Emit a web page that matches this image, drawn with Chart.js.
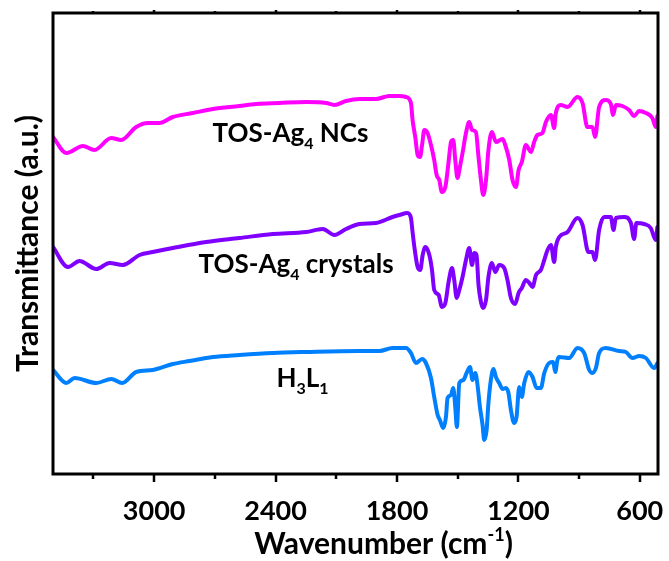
<!DOCTYPE html>
<html>
<head>
<meta charset="utf-8">
<title>FTIR</title>
<script src="https://cdn.jsdelivr.net/npm/chart.js@4.4.0/dist/chart.umd.min.js"></script>
<style>
  html, body { margin: 0; padding: 0; background: #fff; }
</style>
</head>
<body>
<canvas id="ftir" width="669" height="561"></canvas>
<script>
// FTIR spectra, wavenumber in cm-1, transmittance in arbitrary (stacked) units
const ncWave = [3500, 3434, 3352, 3295, 3212, 3163, 3089, 3031, 2974, 2908, 2809, 2710, 2579, 2496, 2381, 2249, 2150, 2109, 2052, 1986,
  1904, 1838, 1788, 1755, 1731, 1723, 1709, 1698, 1686, 1676, 1665, 1649, 1632, 1616, 1604, 1591, 1578, 1561, 1545, 1533,
  1522, 1512, 1501, 1489, 1476, 1459, 1443, 1429, 1410, 1397, 1385, 1374, 1360, 1348, 1331, 1311, 1278, 1265, 1245, 1229,
  1212, 1199, 1183, 1163, 1138, 1122, 1106, 1081, 1064, 1039, 1023, 1015, 990, 957, 908, 883, 859, 834, 821, 801,
  768, 743, 732, 718, 686, 653, 628, 603, 570, 538, 521, 513];
const ncT = [337, 321, 328, 324, 336, 334, 347, 351, 351, 357, 361, 365, 368, 370, 371, 372, 371, 369, 373, 375,
  375, 378, 378, 377, 371, 354, 336, 319, 317, 329, 344, 341, 329, 314, 299, 294, 282, 287, 312, 332,
  334, 314, 296, 307, 321, 341, 352, 344, 342, 317, 294, 279, 294, 324, 342, 332, 335, 329, 314, 294,
  287, 304, 312, 329, 322, 332, 339, 341, 352, 359, 346, 361, 369, 367, 377, 371, 347, 347, 337, 367,
  374, 370, 359, 369, 368, 364, 358, 363, 361, 356, 347, 358];

const crWave = [3500, 3426, 3369, 3286, 3220, 3155, 3072, 3007, 2908, 2743, 2579, 2414, 2249, 2167, 2109, 2052, 1986, 1904, 1822, 1788,
  1748, 1731, 1723, 1714, 1698, 1685, 1673, 1660, 1640, 1627, 1616, 1594, 1578, 1561, 1545, 1528, 1517, 1505, 1492, 1476,
  1459, 1443, 1429, 1418, 1407, 1397, 1385, 1374, 1360, 1348, 1331, 1314, 1295, 1270, 1254, 1237, 1216, 1199, 1183, 1163,
  1146, 1130, 1113, 1089, 1072, 1056, 1039, 1023, 1015, 998, 957, 908, 883, 854, 834, 821, 801, 776, 743, 730,
  718, 677, 644, 628, 617, 579, 546, 521, 513];
const crT = [227, 207, 213, 205, 211, 209, 219, 222, 226, 232, 236, 240, 242, 245, 239, 245, 250, 251, 257, 259,
  261, 256, 242, 227, 207, 204, 219, 227, 219, 204, 184, 179, 167, 171, 192, 206, 194, 176, 184, 197,
  214, 226, 209, 221, 219, 189, 172, 166, 174, 197, 211, 202, 209, 206, 194, 176, 170, 181, 186, 194,
  191, 187, 199, 204, 214, 224, 229, 212, 227, 237, 242, 256, 249, 222, 222, 214, 244, 257, 257, 244,
  256, 257, 251, 235, 251, 250, 246, 234, 247];

const ligWave = [3500, 3434, 3393, 3286, 3212, 3158, 3089, 3007, 2908, 2825, 2710, 2579, 2414, 2249, 1986, 1887, 1822, 1755, 1731, 1706,
  1676, 1657, 1632, 1616, 1599, 1588, 1571, 1558, 1550, 1533, 1522, 1512, 1504, 1492, 1472, 1456, 1439, 1427, 1413, 1402,
  1390, 1377, 1369, 1357, 1348, 1336, 1323, 1311, 1295, 1278, 1262, 1249, 1237, 1221, 1209, 1196, 1183, 1171, 1150, 1130,
  1110, 1089, 1072, 1048, 1028, 1018, 1007, 998, 949, 908, 875, 850, 834, 817, 801, 768, 702, 669, 636, 603,
  570, 529, 513];
const ligT = [104, 91, 96, 91, 95, 91, 102, 104, 110, 113, 117, 119, 121, 122, 123, 123, 126, 126, 121, 111,
  115, 111, 96, 77, 59, 54, 46, 57, 76, 79, 86, 67, 47, 91, 94, 101, 107, 94, 101, 89,
  67, 49, 34, 44, 71, 94, 105, 97, 91, 85, 86, 81, 64, 51, 57, 87, 77, 91, 102, 97,
  86, 86, 101, 111, 112, 102, 114, 117, 116, 126, 121, 104, 101, 106, 121, 126, 123, 122, 116, 118,
  116, 106, 111];

const majorTicks = [3000, 2400, 1800, 1200, 600];
const minorTicks = [3300, 2700, 2100, 1500, 900];

// curve names, drawn next to each trace: [text, subscript] pieces, anchor in data units
const seriesLabels = [
  { parts: [['TOS-Ag', false], ['4', true], [' NCs', false]], at: [2712, 332] },
  { parts: [['TOS-Ag', false], ['4', true], [' crystals', false]], at: [2781, 201] },
  { parts: [['H', false], ['3', true], ['L', false], ['1', true]], at: [2396, 87] }
];

const FONT = 'Lato, "Open Sans", sans-serif';

function zip(xs, ys) {
  return xs.map((v, i) => ({ x: v, y: ys[i] }));
}

function drawPieces(ctx, parts, x, y, size) {
  let cx = x;
  parts.forEach(([t, sub]) => {
    const s = sub ? Math.round(size * 0.62) : size;
    ctx.font = 'bold ' + s + 'px ' + FONT;
    ctx.fillText(t, cx, sub ? y + size * 0.28 : y);
    cx += ctx.measureText(t).width;
  });
}

const framePlugin = {
  id: 'frame',
  afterDraw(chart) {
    const { ctx, chartArea: a, scales: { x, y } } = chart;
    ctx.save();
    ctx.strokeStyle = '#000';
    ctx.lineWidth = 3;
    ctx.strokeRect(a.left, a.top, a.right - a.left, a.bottom - a.top);

    // tick marks: longer majors below, short stubs on top
    ctx.lineWidth = 2.5;
    const tick = (v, len, topLen) => {
      const px = Math.round(x.getPixelForValue(v));
      ctx.beginPath();
      ctx.moveTo(px, a.bottom);
      ctx.lineTo(px, a.bottom + len);
      ctx.moveTo(px, a.top);
      ctx.lineTo(px, a.top - topLen);
      ctx.stroke();
    };
    majorTicks.forEach(v => tick(v, 8, 3));
    minorTicks.forEach(v => tick(v, 5, 2));

    ctx.fillStyle = '#000';
    ctx.textBaseline = 'alphabetic';
    ctx.textAlign = 'left';

    // trace names
    seriesLabels.forEach(l => {
      drawPieces(ctx, l.parts, x.getPixelForValue(l.at[0]), y.getPixelForValue(l.at[1]), 26);
    });

    // x axis title with superscript
    const tSize = 30;
    const title = [['Wavenumber (cm', 0], ['-1', 1], [')', 0]];
    let w = 0;
    title.forEach(([t, sup]) => {
      ctx.font = 'bold ' + (sup ? 18 : tSize) + 'px ' + FONT;
      w += ctx.measureText(t).width;
    });
    let tx = (a.left + a.right) / 2 + 28 - w / 2;
    const ty = a.bottom + 80;
    title.forEach(([t, sup]) => {
      ctx.font = 'bold ' + (sup ? 18 : tSize) + 'px ' + FONT;
      ctx.fillText(t, tx, sup ? ty - 13 : ty);
      tx += ctx.measureText(t).width;
    });
    ctx.restore();
  }
};

new Chart(document.getElementById('ftir'), {
  type: 'line',
  data: {
    datasets: [
      { label: 'TOS-Ag4 NCs', data: zip(ncWave, ncT), borderColor: '#ff00ff' },
      { label: 'TOS-Ag4 crystals', data: zip(crWave, crT), borderColor: '#8000ff' },
      { label: 'H3L1', data: zip(ligWave, ligT), borderColor: '#0080ff' }
    ]
  },
  options: {
    responsive: false,
    animation: false,
    devicePixelRatio: 1,
    layout: { padding: { top: 13, right: 11, left: 0, bottom: 0 } },
    elements: {
      line: { borderWidth: 4, cubicInterpolationMode: 'monotone', borderCapStyle: 'round', borderJoinStyle: 'round' },
      point: { radius: 0 }
    },
    plugins: {
      legend: { display: false },
      tooltip: { enabled: false }
    },
    scales: {
      x: {
        type: 'linear',
        reverse: true,
        min: 510,
        max: 3500,
        afterBuildTicks: s => {
          s.ticks = minorTicks.concat(majorTicks).sort((p, q) => q - p).map(v => ({ value: v }));
        },
        afterFit: s => {
          s.height = 87;
          // keep the last label from pushing the plot edge inwards
          s.paddingLeft = 0;
          s.paddingRight = 0;
        },
        grid: { display: false, drawTicks: false },
        border: { display: false },
        ticks: {
          autoSkip: false,
          maxRotation: 0,
          padding: 21,
          color: '#000',
          font: { family: FONT, weight: 'bold', size: 27 },
          callback: v => (v % 600 === 0 ? String(v) : '')
        }
      },
      y: {
        min: 0,
        max: 461,
        afterFit: s => { s.width = 53; },
        grid: { display: false, drawTicks: false },
        border: { display: false },
        ticks: { display: false },
        title: {
          display: true,
          text: 'Transmittance (a.u.)',
          color: '#000',
          padding: { top: 10, bottom: 0 },
          font: { family: FONT, weight: 'bold', size: 30 }
        }
      }
    }
  },
  plugins: [framePlugin]
});
</script>
</body>
</html>
